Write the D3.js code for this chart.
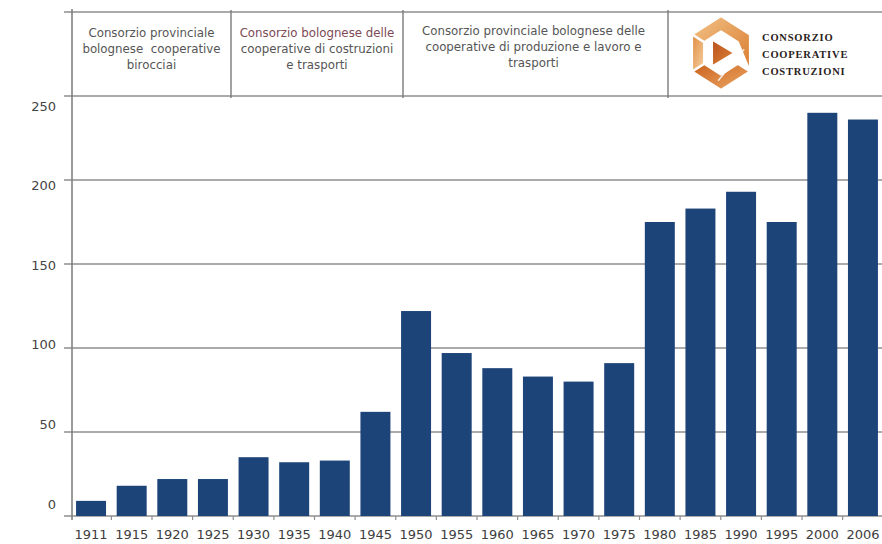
<!DOCTYPE html>
<html>
<head>
<meta charset="utf-8">
<script src="https://cdn.jsdelivr.net/npm/d3@7"></script>
<style>
  body { margin: 0; background: #fff; }
  svg { display: block; }
</style>
</head>
<body>
<svg id="chart" width="882" height="544"></svg>
<script>
// Members of the consortium by year
const years = ["1911", "1915", "1920", "1925", "1930", "1935", "1940", "1945", "1950", "1955",
               "1960", "1965", "1970", "1975", "1980", "1985", "1990", "1995", "2000", "2006"];
const members = [9, 18, 22, 22, 35, 32, 33, 62, 122, 97,
                 88, 83, 80, 91, 175, 183, 193, 175, 240, 236];
const yTicks = [0, 50, 100, 150, 200, 250];

// Names the consortium carried over time (header band)
const periodNames = [
  ["Consorzio provinciale", "bolognese  cooperative", "birocciai"],
  ["Consorzio bolognese delle", "cooperative di costruzioni", "e trasporti"],
  ["Consorzio provinciale bolognese delle", "cooperative di produzione e lavoro e", "trasporti"]
];
const brandLines = ["CONSORZIO", "COOPERATIVE", "COSTRUZIONI"];

const W = 882, H = 544;
const plot = { left: 72, right: 882, top: 96, bottom: 516 };
const gridStart = 64;
const header = { top: 12, dividers: [231, 403, 668] };

const svg = d3.select("#chart");

const x = d3.scaleBand()
  .domain(years)
  .range([plot.left, plot.right])
  .paddingInner(0.262)
  .paddingOuter(0.1);

const y = d3.scaleLinear().domain([0, 250]).range([plot.bottom, plot.top]);
// tick labels sit on a slightly tighter spacing than the gridlines
const yLabel = d3.scaleLinear().domain([0, 250]).range([504, 106]);

const gridColor = "#8e8e8e";
const font = "'DejaVu Sans', sans-serif";

// Horizontal gridlines (the 250 line also closes the header band)
svg.append("g")
  .selectAll("line")
  .data(yTicks)
  .join("line")
  .attr("x1", gridStart)
  .attr("x2", W)
  .attr("y1", d => y(d))
  .attr("y2", d => y(d))
  .attr("stroke", gridColor)
  .attr("stroke-width", 1.4);

// Header band
const hdr = svg.append("g");
hdr.append("line")
  .attr("x1", gridStart).attr("x2", W)
  .attr("y1", header.top).attr("y2", header.top)
  .attr("stroke", gridColor).attr("stroke-width", 1.4);
hdr.selectAll("line.div")
  .data(header.dividers)
  .join("line")
  .attr("class", "div")
  .attr("x1", d => d).attr("x2", d => d)
  .attr("y1", header.top - 2).attr("y2", plot.top + 2)
  .attr("stroke", "#7a7a7a").attr("stroke-width", 1.4);

const segBounds = [plot.left].concat(header.dividers);
const segBase = [[37, 53, 69], [37, 53, 69], [35, 51, 67]];
periodNames.forEach((lines, i) => {
  const cx = (segBounds[i] + segBounds[i + 1]) / 2 + (i === 2 ? -2 : 0);
  hdr.append("text")
    .attr("font-family", font)
    .attr("font-size", 11.8)
    .attr("fill", "#555")
    .attr("text-anchor", "middle")
    .attr("xml:space", "preserve")
    .selectAll("tspan")
    .data(lines)
    .join("tspan")
    .attr("x", cx)
    .attr("y", (d, j) => segBase[i][j])
    .attr("fill", (d, j) => (i === 1 && j === 0) ? "#7d4a55" : "#555")
    .text(d => d);
});

// Logo: an isometric block of three folded bars around a triangle
const defs = svg.append("defs");
const grads = [
  ["gTop", "#f3c48a", "#d97a2c"],
  ["gLeft", "#e08a3c", "#f6d3a6"],
  ["gRight", "#c9611d", "#eeaa66"],
  ["gTri", "#b8521a", "#e0843a"]
];
grads.forEach(([id, a, b]) => {
  const g = defs.append("linearGradient").attr("id", id)
    .attr("x1", "0").attr("y1", "0").attr("x2", "1").attr("y2", "1");
  g.append("stop").attr("offset", "0").attr("stop-color", a);
  g.append("stop").attr("offset", "1").attr("stop-color", b);
});

const logo = svg.append("g").attr("transform", "translate(721,53)");
const hw = 29, hh = 37;
const outer = [[0, -hh], [hw, -hh / 2], [hw, hh / 2], [0, hh], [-hw, hh / 2], [-hw, -hh / 2]];
const k = 0.58;
const inner = outer.map(([a, b]) => [a * k, b * k]);
const pieces = [
  { pts: [outer[5], outer[0], outer[1], outer[2], inner[1], inner[0], inner[5]], fill: "url(#gTop)" },
  { pts: [outer[2], outer[3], outer[4], inner[4], inner[3], inner[2]], fill: "url(#gRight)" },
  { pts: [outer[4], outer[5], inner[5], inner[4]], fill: "url(#gLeft)" }
];
logo.selectAll("path.piece")
  .data(pieces)
  .join("path")
  .attr("class", "piece")
  .attr("d", p => "M" + p.pts.map(q => q.join(",")).join("L") + "Z")
  .attr("fill", p => p.fill)
  .attr("stroke", "#fff")
  .attr("stroke-width", 2.2)
  .attr("stroke-linejoin", "round");
// inner fold lines
logo.append("path")
  .attr("d", `M${-hw * 0.8},${-hh * 0.4}L${hw * 0.2},${hh * 0.1}M${hw * 0.8},${-hh * 0.1}L${-hw * 0.1},${hh * 0.75}`)
  .attr("stroke", "#fff").attr("stroke-width", 1.6).attr("fill", "none").attr("opacity", 0.8);
logo.append("path")
  .attr("d", `M${-hw * 0.3},${-hh * 0.35}L${hw * 0.45},0L${-hw * 0.3},${hh * 0.35}Z`)
  .attr("fill", "url(#gTri)")
  .attr("stroke", "#fff")
  .attr("stroke-width", 1.5);

svg.append("text")
  .attr("font-family", "'Liberation Serif', 'DejaVu Serif', serif")
  .attr("font-weight", "bold")
  .attr("font-size", 10.5)
  .attr("letter-spacing", 0.8)
  .attr("fill", "#2a2220")
  .selectAll("tspan")
  .data(brandLines)
  .join("tspan")
  .attr("x", 762)
  .attr("y", (d, i) => 41 + i * 17)
  .text(d => d);

// Bars
svg.append("g")
  .selectAll("rect")
  .data(years.map((yr, i) => ({ yr, v: members[i] })))
  .join("rect")
  .attr("x", d => x(d.yr))
  .attr("y", d => y(d.v))
  .attr("width", x.bandwidth())
  .attr("height", d => y(0) - y(d.v))
  .attr("fill", "#1d4479");

// Vertical axis line
svg.append("line")
  .attr("x1", plot.left).attr("x2", plot.left)
  .attr("y1", header.top - 3).attr("y2", plot.bottom + 4)
  .attr("stroke", "#7a7a7a").attr("stroke-width", 1.5);

// Category boundary ticks below the baseline
const gap = x.step() - x.bandwidth();
const boundaries = years.slice(0, -1).map(yr => x(yr) + x.bandwidth() + gap / 2);
svg.append("g")
  .selectAll("line")
  .data(boundaries)
  .join("line")
  .attr("x1", d => d).attr("x2", d => d)
  .attr("y1", plot.bottom).attr("y2", plot.bottom + 4)
  .attr("stroke", gridColor).attr("stroke-width", 1.2);

// Year labels
const xAxis = svg.append("g")
  .attr("transform", `translate(0,${plot.bottom})`)
  .call(d3.axisBottom(x).tickSize(0).tickPadding(14));
xAxis.select(".domain").remove();
xAxis.selectAll("text")
  .attr("font-family", font)
  .attr("font-size", 13)
  .attr("fill", "#3d3d3d");

// Value labels
const yAxis = svg.append("g")
  .attr("transform", "translate(56,0)")
  .call(d3.axisLeft(yLabel).tickValues(yTicks).tickSize(0).tickPadding(0));
yAxis.select(".domain").remove();
yAxis.selectAll("text")
  .attr("font-family", font)
  .attr("font-size", 13)
  .attr("fill", "#444");
</script>
</body>
</html>
